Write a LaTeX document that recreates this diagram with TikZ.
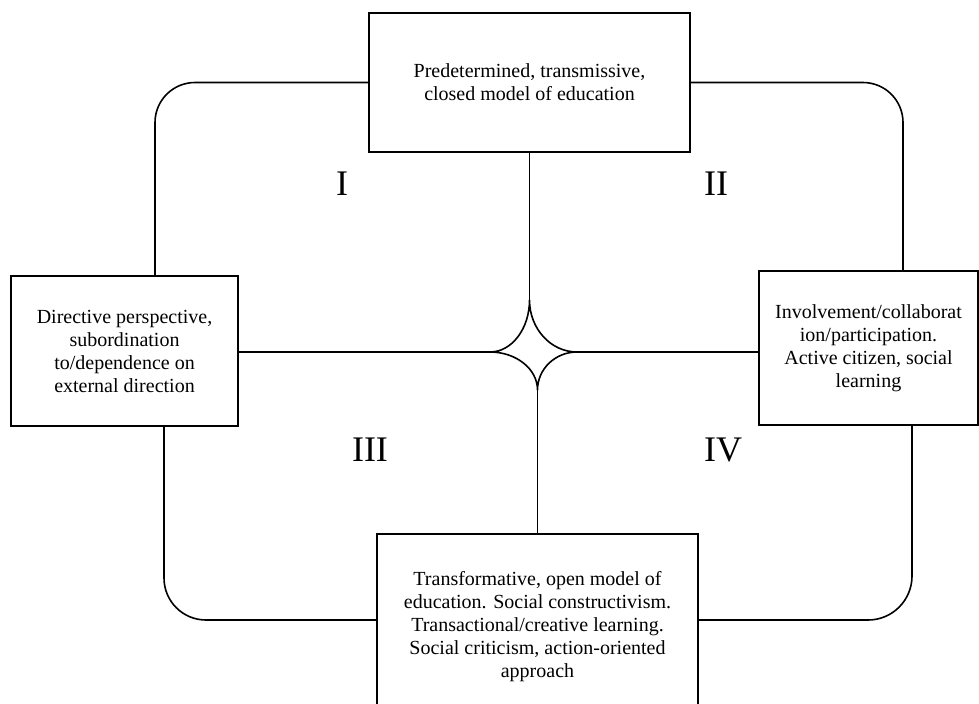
\documentclass[tikz,border=0pt]{standalone}
\usepackage{fontspec}
\setmainfont{Liberation Serif}
\usetikzlibrary{positioning}
\usetikzlibrary{calc}
\tikzset{
bx/.style={
  rectangle,
  inner sep=0pt,
  align=center,
  draw=black,
  line width=0.7pt,
  fill=white,
  font=\fontsize{10}{11.5}\selectfont
  },
num/.style={
  inner sep=0pt,
  font=\fontsize{18}{18}\selectfont
  }
}
\begin{document}
\begin{tikzpicture}[x=0.5pt,y=-0.5pt,line width=0.8pt]
    \useasboundingbox (0,0) rectangle (979,703);
    \node[bx,minimum width=160.5pt,minimum height=69.5pt] (top) at (529.5,82.5) {Predetermined, transmissive,\\closed model of education};
    \node[bx,minimum width=113.5pt,minimum height=75pt] (left) at (124.5,351) {Directive perspective,\\subordination\\to/dependence on\\external direction};
    \node[bx,minimum width=109.5pt,minimum height=77pt] (right) at (868.5,348) {Involvement/collaborat\\ion/participation.\\Active citizen, social\\learning};
    \node[bx,minimum width=160.5pt,minimum height=93pt] (bottom) at (537.5,627) {Transformative, open model of\\education. Social constructivism.\\Transactional/creative learning.\\Social criticism, action-oriented\\approach};
    \coordinate (st) at (529.5,300);
    \coordinate (sl) at (490,352);
    \coordinate (sr) at (577,352);
    \coordinate (sb) at (537.5,390);
    \draw (top.south) -- (st);
    \draw (left.east |- sl) -- (sl);
    \draw (right.west |- sr) -- (sr);
    \draw (bottom.north) -- (sb);
    % centre star
    \draw (st) .. controls ($(st)+(0,28.7)$) and ($(sl)+(21.8,0)$) .. (sl)
          .. controls ($(sl)+(26.2,0)$) and ($(sb)+(0,-21)$) .. (sb)
          .. controls ($(sb)+(0,-21)$) and ($(sr)+(-21.8,0)$) .. (sr)
          .. controls ($(sr)+(-26.2,0)$) and ($(st)+(0,28.7)$) .. (st);
    % outer loop
    \draw[rounded corners=20pt] (top.west) -| ([xshift=15.25pt]left.north);
    \draw[rounded corners=20pt] (top.east) -| ([xshift=17.25pt]right.north);
    \draw[rounded corners=21pt] ([xshift=19.75pt]left.south) |- ([yshift=3.5pt]bottom.west);
    \draw[rounded corners=22pt] ([xshift=21.75pt]right.south) |- ([yshift=3.5pt]bottom.east);
    \node[num] (q1) at (342,184) {I};
    \node[num] (q2) at (716,184) {II};
    \node[num] (q3) at (370,450) {III};
    \node[num] (q4) at (723,450) {IV};
\end{tikzpicture}
\end{document}
